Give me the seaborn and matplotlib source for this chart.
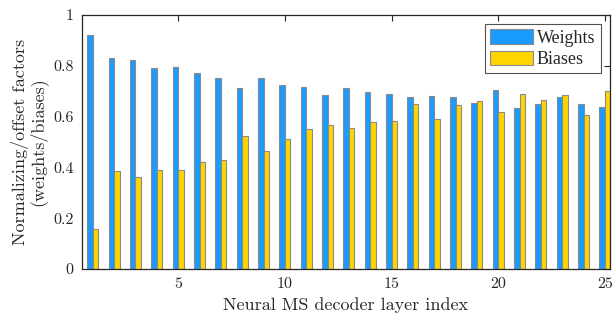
import matplotlib
matplotlib.use("Agg")
import matplotlib.pyplot as plt
import seaborn as sns
import pandas as pd

layers = list(range(1, 26))
weights = [0.921, 0.832, 0.824, 0.793, 0.797, 0.770, 0.751, 0.714, 0.752, 0.724,
           0.715, 0.685, 0.714, 0.698, 0.689, 0.676, 0.681, 0.678, 0.652, 0.705,
           0.633, 0.648, 0.678, 0.648, 0.639]
biases = [0.159, 0.387, 0.361, 0.390, 0.389, 0.423, 0.428, 0.522, 0.465, 0.512,
          0.551, 0.567, 0.556, 0.580, 0.583, 0.650, 0.589, 0.644, 0.661, 0.618,
          0.690, 0.665, 0.686, 0.608, 0.700]
series = ["Weights", "Biases"]
colors = ["#1A9BFF", "#FFD500"]
xticks = [5, 10, 15, 20, 25]
yticks = [0, 0.2, 0.4, 0.6, 0.8, 1]
ytick_labels = ["0", "0.2", "0.4", "0.6", "0.8", "1"]

df = pd.DataFrame({
    "layer": layers * 2,
    "value": weights + biases,
    "series": [series[0]] * len(layers) + [series[1]] * len(layers),
})

sns.set_style("white")
plt.rcParams["font.family"] = ["cmr10", "DejaVu Serif"]
plt.rcParams["axes.formatter.use_mathtext"] = True

fig = plt.figure(figsize=(6.16, 3.2), dpi=100)
ax = fig.add_axes([0.133, 0.159, 0.857, 0.794])

sns.barplot(data=df, x="layer", y="value", hue="series", order=layers,
            hue_order=series, palette=colors, saturation=1, width=0.52,
            edgecolor="#8a8a8a", linewidth=0.8, ax=ax, legend=True)

ax.set_xlim(-0.51, 24.23)
ax.set_ylim(0, 1)
ax.set_xticks([layers.index(t) for t in xticks])
ax.set_xticklabels([str(t) for t in xticks])
ax.set_yticks(yticks)
ax.set_yticklabels(ytick_labels)
ax.tick_params(direction="in", top=True, right=True, length=4, width=0.8,
               labelsize=11.5, colors="#262626", pad=6)
for s in ax.spines.values():
    s.set_visible(True)
    s.set_color("#262626")
    s.set_linewidth(0.9)

ax.set_xlabel("Neural MS decoder layer index", fontsize=13, color="#262626", labelpad=4)
ax.set_ylabel("Normalizing/offset factors\n(weights/biases)", fontsize=13,
              color="#262626", labelpad=4, linespacing=1.0)

leg = ax.legend(loc="upper right", prop={"family": "Liberation Serif", "size": 13},
                frameon=True, fancybox=False, edgecolor="#262626",
                handlelength=2.4, handleheight=0.85, handletextpad=0.2,
                borderpad=0.3, labelspacing=0.2, borderaxespad=0.5)
leg.get_frame().set_linewidth(0.8)
for h in leg.legend_handles:
    h.set_edgecolor("#8a8a8a")

fig.savefig("out.png", dpi=100)
